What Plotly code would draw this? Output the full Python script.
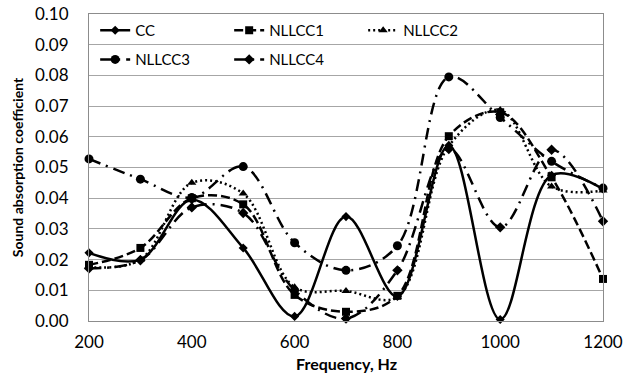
import plotly.graph_objects as go

freq = [200, 300, 400, 500, 600, 700, 800, 900, 1000, 1100, 1200]
cc     = [0.0222, 0.0200, 0.0395, 0.0238, 0.0015, 0.0340, 0.0080, 0.0572, 0.0005, 0.0475, 0.0430]
nllcc1 = [0.0183, 0.0238, 0.0400, 0.0380, 0.0085, 0.0030, 0.0082, 0.0602, 0.0680, 0.0468, 0.0137]
nllcc2 = [0.0175, 0.0200, 0.0450, 0.0415, 0.0110, 0.0098, 0.0078, 0.0570, 0.0687, 0.0438, 0.0425]
nllcc3 = [0.0528, 0.0462, 0.0402, 0.0503, 0.0255, 0.0165, 0.0245, 0.0795, 0.0663, 0.0520, 0.0433]
nllcc4 = [0.0172, 0.0198, 0.0370, 0.0352, 0.0100, 0.0008, 0.0165, 0.0560, 0.0305, 0.0558, 0.0325]

x_ticks = [200, 400, 600, 800, 1000, 1200]

FONT = "Lato"
series = [
    ("CC", cc, "solid", "diamond", 7, "legend"),
    ("NLLCC1", nllcc1, "9px,4px", "square", 8, "legend"),
    ("NLLCC2", nllcc2, "2px,3px", "triangle-up", 8, "legend"),
    ("NLLCC3", nllcc3, "12px,6px,2px,6px", "circle", 9, "legend2"),
    ("NLLCC4", nllcc4, "12px,6px,2px,6px", "diamond", 8, "legend2"),
]

fig = go.Figure()
for name, ys, dash, sym, size, leg in series:
    fig.add_trace(go.Scatter(
        x=freq, y=ys, name=name, mode="lines+markers",
        line=dict(color="black", width=2.5, dash=dash, shape="spline", smoothing=1.0),
        marker=dict(symbol=sym, size=size, color="black"),
        cliponaxis=False, legend=leg,
    ))

legend_common = dict(orientation="h", xanchor="left", yanchor="top",
                     entrywidth=89, entrywidthmode="pixels",
                     bgcolor="rgba(0,0,0,0)", font=dict(size=15, family=FONT))
fig.update_layout(
    width=624, height=388,
    margin=dict(l=89, r=21, t=14, b=67, autoexpand=False),
    paper_bgcolor="white", plot_bgcolor="white",
    font=dict(family=FONT, size=17, color="black"),
    showlegend=True,
    legend=dict(x=0.012, y=1.0, **legend_common),
    legend2=dict(x=0.012, y=0.905, **legend_common),
    annotations=[dict(text="<b>Frequency, Hz</b>", xref="paper", yref="paper",
                      x=0.5, y=-0.14, xanchor="center", yanchor="middle",
                      showarrow=False, font=dict(size=16, family=FONT, color="black"))],
)
fig.update_xaxes(
    range=[200, 1200], tickvals=x_ticks, ticks="", showgrid=False,
    showline=True, linecolor="#8c8c8c", linewidth=1, mirror=True,
    tickfont=dict(size=17), zeroline=False, ticklabelstandoff=6, automargin=False,
)
fig.update_yaxes(
    range=[0, 0.10], dtick=0.01, tickformat=".2f", ticks="",
    showgrid=True, gridcolor="#a6a6a6", gridwidth=1,
    showline=True, linecolor="#8c8c8c", linewidth=1, mirror=True,
    tickfont=dict(size=17), zeroline=False, ticklabelstandoff=16, automargin=False,
    title=dict(text="<b>Sound absorption coefficient</b>", font=dict(size=14), standoff=8),
)

fig.write_html("out.html", post_script="document.body.style.margin='0';",
               config={"displayModeBar": False})
